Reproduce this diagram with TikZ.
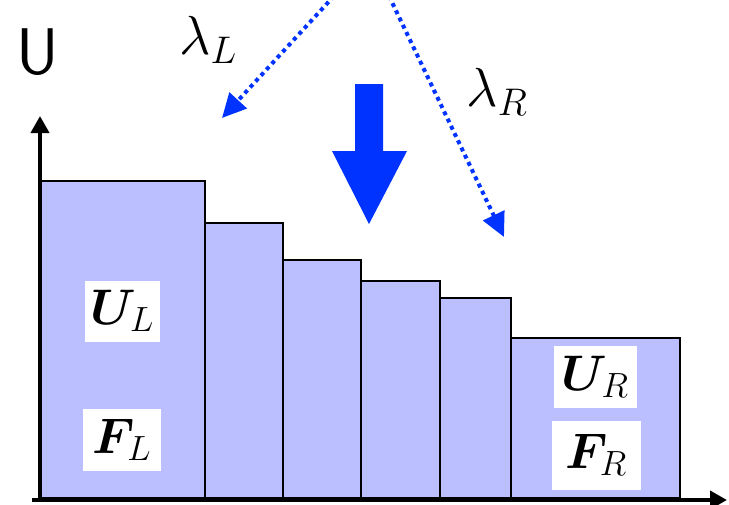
\RequirePackage{fix-cm}
\documentclass[tikz,border=0pt]{standalone}
\usepackage{bm}
\usetikzlibrary{arrows.meta}
\definecolor{barfill}{RGB}{187,191,255}
\definecolor{vivid}{RGB}{0,51,255}
\begin{document}
\begin{tikzpicture}[x=1pt,y=-1pt,
  bar/.style={draw=black, line width=1.3pt, fill=barfill, anchor=south west, inner sep=0pt, outer sep=0pt},
  lbl/.style={fill=white, inner sep=0pt, font=\fontsize{50}{60}\selectfont},
  lam/.style={inner sep=0pt, font=\fontsize{55}{64}\selectfont},
  axis/.style={line width=4pt, -{Triangle[length=17pt,width=18pt]}},
  wave/.style={draw=vivid, line width=4pt, dash pattern=on 4pt off 4pt, -{Triangle[length=24pt,width=23pt,fill=vivid]}}]
\useasboundingbox (0,0) rectangle (729,504);
% bars
\node[bar, minimum width=165pt, minimum height=317pt] (b1) at (40,498) {};
\node[bar, minimum width=78pt, minimum height=275pt] (b2) at (205,498) {};
\node[bar, minimum width=78pt, minimum height=238pt] (b3) at (283,498) {};
\node[bar, minimum width=79pt, minimum height=217pt] (b4) at (361,498) {};
\node[bar, minimum width=71pt, minimum height=200pt] (b5) at (440,498) {};
\node[bar, minimum width=169pt, minimum height=160pt] (b6) at (511,498) {};
% axes
\coordinate (yb) at (40,501);
\coordinate (yt) at (40,116);
\coordinate (xb) at (32,500);
\coordinate (xt) at (727,500);
\draw[axis] (yb) -- (yt);
\draw[axis] (xb) -- (xt);
\node[inner sep=0pt, font=\fontsize{66}{70}\selectfont\sffamily] (ulab) at (38,52) {U};
% labels
\node[lbl, minimum width=75pt, minimum height=61pt] (UL) at (122,311) {$\bm{U}_L$};
\node[lbl, minimum width=78pt, minimum height=62pt] (FL) at (122,440) {$\bm{F}_L$};
\node[lbl, minimum width=83pt, minimum height=62pt] (UR) at (595,377) {$\bm{U}_R$};
\node[lbl, minimum width=89pt, minimum height=69pt] (FR) at (596,455) {$\bm{F}_R$};
\node[lam] (lamL) at (208,40) {$\lambda_L$};
\node[lam] (lamR) at (497,92) {$\lambda_R$};
% dotted wave arrows
\coordinate (sL) at (334,-4);
\coordinate (tL) at (222,118);
\coordinate (sR) at (389,-4);
\coordinate (tR) at (504,237);
\draw[wave] (sL) -- (tL);
\draw[wave] (sR) -- (tR);
% big arrow
\fill[vivid] (355,84) -- (383,84) -- (383,151) -- (407,151) -- (369,224) -- (332,151) -- (355,151) -- cycle;
\end{tikzpicture}
\end{document}
